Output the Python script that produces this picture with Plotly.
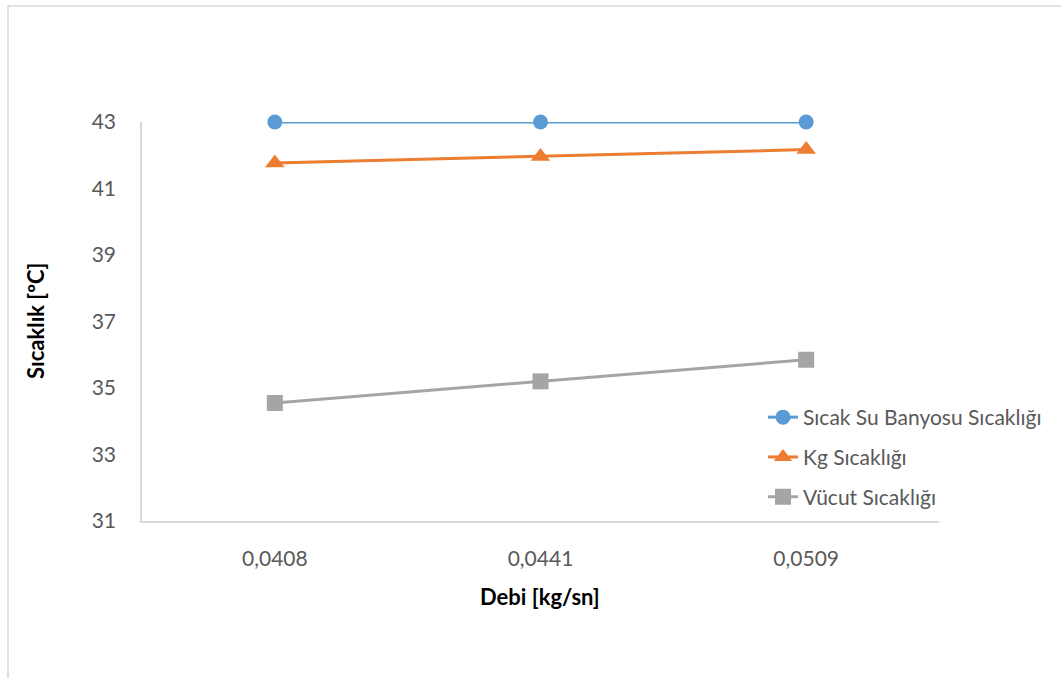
import plotly.graph_objects as go

# Flow rate categories (x axis tick labels)
debi = ["0,0408", "0,0441", "0,0509"]

# Temperatures [ºC] per flow rate
sicak_su_banyosu = [43.0, 43.0, 43.0]
kg_sicakligi = [41.77, 41.96, 42.17]
vucut_sicakligi = [34.55, 35.2, 35.85]

series_names = ["Sıcak Su Banyosu Sıcaklığı", "Kg Sıcaklığı", "Vücut Sıcaklığı"]
series_values = [sicak_su_banyosu, kg_sicakligi, vucut_sicakligi]
series_colors = ["#5B9BD5", "#ED7D31", "#A5A5A5"]
series_symbols = ["circle", "triangle-up", "square"]
series_sizes = [15, 17, 16]

y_ticks = [31, 33, 35, 37, 39, 41, 43]

W, H = 1061, 678
L, R, T, B = 142, 122, 122, 157
PW, PH = W - L - R, H - T - B


def px_x(px):
    return (px - L) / PW


def px_y(py):
    return (H - B - py) / PH


FONT = "Lato"

fig = go.Figure()
for i, (name, vals, col, sym, sz) in enumerate(
    zip(series_names, series_values, series_colors, series_symbols, series_sizes)
):
    fig.add_trace(
        go.Scatter(
            x=debi,
            y=vals,
            name=name,
            mode="lines+markers",
            line=dict(color=col, width=3),
            marker=dict(symbol=sym, size=sz, color=col),
            legendgroup=f"g{i}",
            cliponaxis=False,
        )
    )

fig.update_layout(
    width=W,
    height=H,
    margin=dict(l=L, r=R, t=T, b=B, pad=0),
    paper_bgcolor="white",
    plot_bgcolor="white",
    font=dict(family=FONT, color="#595959", size=21),
    showlegend=True,
    legend=dict(
        x=px_x(763),
        xanchor="left",
        y=px_y(397),
        yanchor="top",
        bgcolor="rgba(0,0,0,0)",
        font=dict(family=FONT, size=21, color="#595959"),
        traceorder="grouped",
        tracegroupgap=9.5,
    ),
    xaxis=dict(
        type="category",
        range=[-0.5, 2.5],
        showgrid=False,
        zeroline=False,
        showline=True,
        linecolor="#D9D9D9",
        linewidth=1.5,
        ticks="outside",
        ticklen=18,
        tickcolor="rgba(0,0,0,0)",
        tickfont=dict(family=FONT, size=21, color="#595959"),
    ),
    yaxis=dict(
        range=[31, 43],
        tickvals=y_ticks,
        showgrid=False,
        zeroline=False,
        showline=True,
        linecolor="#D9D9D9",
        linewidth=1.5,
        ticks="outside",
        ticklen=20,
        tickcolor="rgba(0,0,0,0)",
        tickfont=dict(family=FONT, size=21, color="#595959"),
    ),
    annotations=[
        dict(
            text="<b>Debi [kg/sn]</b>",
            x=px_x(540),
            y=px_y(596),
            xref="paper",
            yref="paper",
            xanchor="center",
            yanchor="middle",
            showarrow=False,
            font=dict(family=FONT, size=22, color="black"),
        ),
        dict(
            text="<b>Sıcaklık [ºC]</b>",
            x=px_x(35),
            y=px_y(321),
            xref="paper",
            yref="paper",
            xanchor="center",
            yanchor="middle",
            textangle=-90,
            showarrow=False,
            font=dict(family=FONT, size=22, color="black"),
        ),
    ],
    shapes=[
        dict(
            type="rect",
            xref="paper",
            yref="paper",
            x0=px_x(8),
            x1=px_x(1080),
            y0=px_y(700),
            y1=px_y(6),
            line=dict(color="#D9D9D9", width=1.5),
            fillcolor="rgba(0,0,0,0)",
            layer="below",
        )
    ],
)

fig.write_html("out.html")
